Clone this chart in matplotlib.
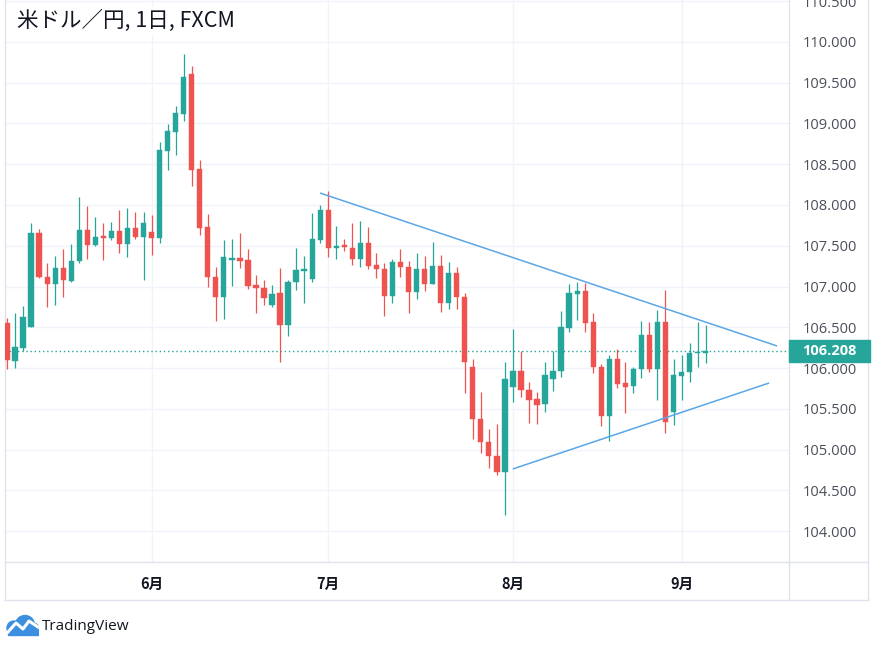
import matplotlib
matplotlib.use("Agg")
import matplotlib.pyplot as plt
from matplotlib.lines import Line2D
from matplotlib.patches import Rectangle, Circle
from matplotlib.transforms import blended_transform_factory

# USD/JPY daily candles, May 6 - Sep 4 (index 0 = first visible bar)
opens = [106.55, 106.09, 106.24, 106.50, 107.66, 107.12, 107.03, 107.23, 107.07, 107.31,
         107.69, 107.51, 107.61, 107.60, 107.68, 107.52, 107.72, 107.61, 107.67, 107.59,
         108.66, 108.90, 109.12, 109.61, 108.44, 107.73, 107.12, 106.87, 107.33, 107.35,
         107.33, 107.02, 106.98, 106.77, 106.92, 106.53, 107.06, 107.19, 107.09, 107.57,
         107.94, 107.47, 107.51, 107.47, 107.34, 107.53, 107.26, 107.21, 106.88, 107.30,
         107.24, 106.93, 107.21, 107.03, 107.25, 106.80, 107.17, 106.87, 106.01, 105.37,
         105.09, 104.92, 104.72, 105.77, 105.96, 105.73, 105.62, 105.56, 105.86, 105.96,
         106.49, 106.91, 106.94, 106.56, 106.01, 105.41, 106.11, 105.82, 105.78, 105.99,
         106.40, 105.99, 106.56, 105.46, 105.90, 105.95, 106.18, 106.19]
highs = [106.61, 106.67, 106.76, 107.78, 107.71, 107.29, 107.37, 107.46, 107.52, 108.10,
         107.99, 107.85, 107.78, 107.79, 107.94, 107.96, 107.91, 107.91, 107.88, 108.77,
         108.99, 109.21, 109.85, 109.71, 108.55, 107.89, 107.24, 107.57, 107.58, 107.66,
         107.46, 107.14, 107.08, 107.02, 107.23, 107.08, 107.47, 107.37, 107.90, 108.00,
         108.17, 107.74, 107.58, 107.78, 107.80, 107.73, 107.41, 107.29, 107.34, 107.46,
         107.31, 107.41, 107.37, 107.55, 107.39, 107.30, 107.24, 106.92, 106.11, 105.71,
         105.25, 105.31, 106.07, 106.48, 106.21, 105.83, 105.71, 106.07, 106.21, 106.70,
         107.03, 107.06, 107.04, 106.67, 106.05, 106.16, 106.23, 106.07, 106.01, 106.58,
         106.56, 106.71, 106.96, 106.11, 106.16, 106.31, 106.56, 106.53]
lows = [105.99, 106.00, 106.21, 106.50, 107.10, 106.75, 106.77, 106.87, 107.05, 107.29,
        107.34, 107.50, 107.33, 107.57, 107.41, 107.36, 107.58, 107.08, 107.39, 107.53,
        108.43, 108.61, 109.03, 108.23, 107.63, 106.99, 106.58, 106.60, 107.01, 107.23,
        106.97, 106.67, 106.77, 106.75, 106.07, 106.39, 106.96, 106.80, 107.06, 107.53,
        107.36, 107.34, 107.44, 107.26, 107.24, 107.21, 107.10, 106.64, 106.80, 107.12,
        106.67, 106.85, 106.94, 107.03, 106.69, 106.72, 106.72, 105.69, 105.13, 104.96,
        104.77, 104.69, 104.20, 105.58, 105.64, 105.33, 105.31, 105.46, 105.72, 105.89,
        106.44, 106.59, 106.44, 105.94, 105.29, 105.10, 105.75, 105.45, 105.69, 105.88,
        105.95, 105.61, 105.20, 105.30, 105.61, 105.83, 106.01, 106.06]
closes = [106.10, 106.26, 106.63, 107.66, 107.12, 107.03, 107.23, 107.08, 107.31, 107.69,
          107.51, 107.61, 107.60, 107.68, 107.52, 107.72, 107.61, 107.78, 107.59, 108.67,
          108.91, 109.13, 109.57, 108.43, 107.72, 107.12, 106.87, 107.36, 107.35, 107.31,
          107.01, 106.98, 106.86, 106.91, 106.53, 107.06, 107.20, 107.21, 107.58, 107.94,
          107.47, 107.50, 107.48, 107.34, 107.53, 107.25, 107.21, 106.88, 107.30, 107.24,
          106.93, 107.21, 107.03, 107.25, 106.80, 107.17, 106.87, 106.07, 105.37, 105.09,
          104.92, 104.72, 105.86, 105.96, 105.73, 105.61, 105.55, 105.91, 105.96, 106.50,
          106.92, 106.94, 106.55, 106.01, 105.41, 106.11, 105.80, 105.77, 105.99, 106.40,
          105.99, 106.56, 105.34, 105.91, 105.95, 106.18, 106.20, 106.21]

last_price = 106.208
month_ticks = [18, 40, 63, 84]
month_labels = ["6月", "7月", "8月", "9月"]
price_ticks = [104.0 + 0.5 * k for k in range(14)]

# drawn trend lines (bar index, price)
upper_x = [38.98, 95.9]
upper_y = [108.147, 106.27]
lower_x = [62.98, 94.9]
lower_y = [104.761, 105.816]

UP = "#26a69a"
DOWN = "#ef5350"
FRAME = "#e0e3eb"
GRID = "#f0f3fa"
TEXT = "#131722"
JP = ["Noto Sans CJK JP", "DejaVu Sans"]

W, H = 872, 648
fig = plt.figure(figsize=(W / 100, H / 100), dpi=100)
fig.patch.set_facecolor("white")

ax = fig.add_axes([5 / W, 1 - 562 / H, (789 - 5) / W, 562 / H])
ax.set_xlim(-0.25, 97.38)
ax.set_ylim(103.62, 110.515)

for i in range(len(opens)):
    o, h, l, c = opens[i], highs[i], lows[i], closes[i]
    col = UP if c >= o else DOWN
    ax.vlines(i, l, h, color=col, lw=0.9, zorder=3)
    ax.bar(i, max(abs(c - o), 0.02), bottom=min(o, c), width=0.66,
           color=col, edgecolor=col, lw=0.3, zorder=4)

ax.plot(upper_x, upper_y, color="#5aa6e6", lw=1.1, zorder=5, solid_capstyle="butt")
ax.plot(lower_x, lower_y, color="#5aa6e6", lw=1.1, zorder=5, solid_capstyle="butt")

ax.axhline(last_price, color=UP, lw=1, linestyle=(0, (1, 2)), zorder=2)

ax.set_yticks(price_ticks)
ax.set_yticklabels(["%.3f" % p for p in price_ticks], family="Open Sans",
                   fontsize=10.5, color="#4a4f5a")
ax.yaxis.tick_right()
ax.tick_params(axis="y", length=0, pad=9.5)
ax.set_xticks(month_ticks)
ax.set_xticklabels(month_labels, family=JP, fontsize=10.5, fontweight="bold", color=TEXT)
ax.tick_params(axis="x", length=0, pad=10)
ax.grid(True, color=GRID, lw=1, zorder=0)
ax.set_axisbelow(True)
ax.spines["top"].set_visible(False)
for side in ["left", "right", "bottom"]:
    ax.spines[side].set_color(FRAME)
    ax.spines[side].set_linewidth(1)

# outer frame of the widget
fx = lambda px: px / W
fy = lambda py: 1 - py / H
fig.add_artist(Line2D([fx(5), fx(868)], [fy(600), fy(600)], color=FRAME, lw=1))
fig.add_artist(Line2D([fx(868), fx(868)], [fy(0), fy(600)], color=FRAME, lw=1))
fig.add_artist(Line2D([fx(5), fx(5)], [fy(562), fy(600)], color=FRAME, lw=1))
fig.add_artist(Line2D([fx(789), fx(789)], [fy(562), fy(600)], color=FRAME, lw=1))
fig.add_artist(Line2D([fx(789), fx(868)], [fy(562), fy(562)], color=FRAME, lw=1))

# last price badge on the price scale
tr = blended_transform_factory(fig.transFigure, ax.transData)
fig.add_artist(Rectangle((fx(789), last_price - 0.138), fx(870) - fx(789), 0.276,
                         transform=tr, color=UP, zorder=10))
fig.text(fx(802), last_price, "%.3f" % last_price, transform=tr, color="white",
         fontsize=10.5, family="Open Sans", fontweight="bold", va="center", ha="left",
         zorder=11)

# title
fig.text(fx(17), fy(21), "米ドル／円, 1日, FXCM", family=JP, fontsize=15.5, color=TEXT,
         va="center", ha="left",
         bbox=dict(facecolor="white", edgecolor="none", pad=2))

# TradingView footer
logo = fig.add_axes([fx(5), fy(637), 34 / W, 24 / H])
logo.set_xlim(0, 34)
logo.set_ylim(0, 24)
logo.axis("off")
blue = "#3d8fe0"
logo.add_patch(Circle((9, 9), 7, color=blue))
logo.add_patch(Circle((20, 12), 9.5, color=blue))
logo.add_patch(Circle((28, 8), 6, color=blue))
logo.add_patch(Rectangle((3, 2), 30, 7, color=blue))
logo.plot([3, 11, 18, 24, 33], [5, 14, 8, 16, 10], color="white", lw=2.2)
fig.text(fx(42), fy(626), "TradingView", family="Open Sans", fontsize=11,
         color=TEXT, va="center", ha="left")

fig.savefig("out.png", dpi=100)
